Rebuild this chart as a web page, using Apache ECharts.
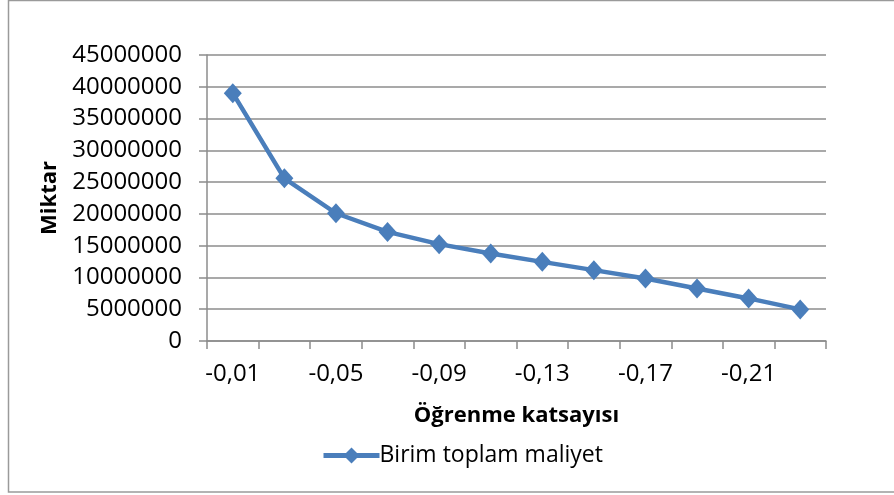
<!DOCTYPE html>
<html>
<head>
<meta charset="utf-8">
<script src="https://cdn.jsdelivr.net/npm/echarts@6/dist/echarts.min.js"></script>
<style>
  html, body { margin: 0; padding: 0; background: #fff; }
  #chart { width: 894px; height: 495px; }
</style>
</head>
<body>
<div id="chart"></div>
<script>
// Learning coefficient categories and unit total cost values
const categories = ['-0,01', '-0,03', '-0,05', '-0,07', '-0,09', '-0,11', '-0,13', '-0,15', '-0,17', '-0,19', '-0,21', '-0,23'];
const unitTotalCost = [39000000, 25600000, 20100000, 17170000, 15240000, 13770000, 12450000, 11150000, 9840000, 8270000, 6700000, 4970000];
const seriesName = 'Birim toplam maliyet';
const xTitle = 'Öğrenme katsayısı';
const yTitle = 'Miktar';

const FONT = '"Open Sans", "Noto Sans", sans-serif';
const blue = '#4a7ebb';
const gridGray = '#8c8c8c';

const chart = echarts.init(document.getElementById('chart'), null, { renderer: 'canvas' });

chart.setOption({
  animation: false,
  backgroundColor: '#fff',
  textStyle: { fontFamily: FONT, color: '#000' },
  graphic: [{
    type: 'rect',
    shape: { x: 8.5, y: 0.5, width: 900, height: 491.5 },
    style: { fill: 'none', stroke: '#9a9a9a', lineWidth: 1.5 },
    silent: true
  }],
  grid: { left: 207, right: 68, top: 55, bottom: 154, containLabel: false },
  legend: {
    left: 316,
    top: 439,
    itemWidth: 56,
    itemHeight: 20,
    itemGap: 4,
    lineStyle: { width: 5, color: blue },
    itemStyle: { color: blue },
    textStyle: { fontFamily: FONT, fontSize: 23, color: '#000', padding: [0, 0, 0, -5] },
    data: [seriesName]
  },
  xAxis: {
    type: 'category',
    data: categories,
    boundaryGap: true,
    name: xTitle,
    nameLocation: 'middle',
    nameGap: 64,
    nameTextStyle: { fontFamily: FONT, fontSize: 22, fontWeight: 'bold', color: '#000' },
    axisLine: { show: true, lineStyle: { color: gridGray, width: 1.5 } },
    axisTick: { show: true, interval: 0, length: 8, lineStyle: { color: gridGray, width: 1.5 } },
    axisLabel: { interval: 1, margin: 21, fontFamily: FONT, fontSize: 24, color: '#000' },
    splitLine: { show: false }
  },
  yAxis: {
    type: 'value',
    min: 0,
    max: 45000000,
    interval: 5000000,
    name: yTitle,
    nameLocation: 'middle',
    nameRotate: 90,
    nameGap: 146,
    nameTextStyle: { fontFamily: FONT, fontSize: 22, fontWeight: 'bold', color: '#000' },
    axisLine: { show: true, lineStyle: { color: gridGray, width: 1.5 } },
    axisTick: { show: true, length: 8, lineStyle: { color: gridGray, width: 1.5 } },
    axisLabel: { margin: 25, fontFamily: FONT, fontSize: 24, color: '#000',
      formatter: function (v) { return String(v); } },
    splitLine: { show: true, lineStyle: { color: gridGray, width: 1.5 } }
  },
  series: [{
    name: seriesName,
    type: 'line',
    data: unitTotalCost,
    symbol: 'diamond',
    symbolSize: [18, 20],
    lineStyle: { color: blue, width: 4.5 },
    itemStyle: { color: blue, borderColor: blue, borderWidth: 0 }
  }]
});
</script>
</body>
</html>
